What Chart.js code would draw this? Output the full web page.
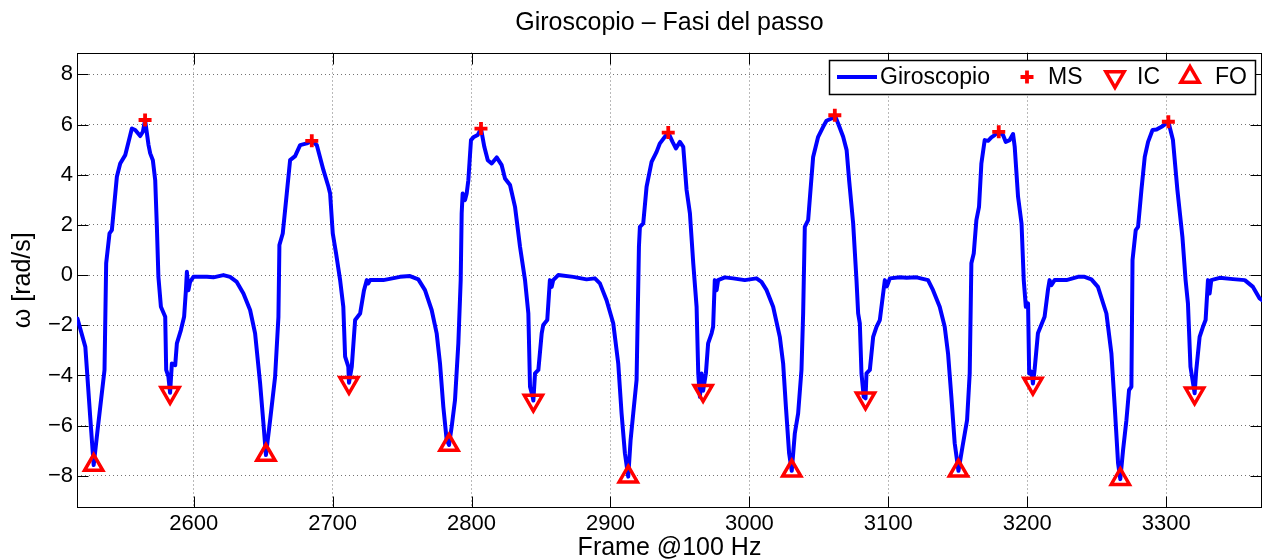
<!DOCTYPE html>
<html>
<head>
<meta charset="utf-8">
<title>Giroscopio – Fasi del passo</title>
<script src="https://cdn.jsdelivr.net/npm/chart.js@4.4.1/dist/chart.umd.min.js"></script>
<style>
  html, body { margin: 0; padding: 0; background: #fff; }
</style>
</head>
<body>
<canvas id="gyro" width="1262" height="560"></canvas>
<script>
// ---- Gyroscope trace (frame @100 Hz, rad/s), one row per step ----
const frames = [
  2516.3, 2522, 2525.5, 2528, 2530.8, 2535.8, 2537, 2539.4, 2541.1, 2544.7, 2547.1, 2550.7, 2555.5, 2557.9, 2561.5, 2563.4, 2565,
  2567.5, 2568.7, 2570.6, 2572.3, 2573.5, 2574.6, 2576.4, 2579.5, 2580.2, 2581.8, 2583, 2584.3, 2586.7, 2587.9, 2590.8, 2593.1,
  2594.4, 2595.1, 2596.2, 2597.4, 2599.8, 2609.5, 2614.2, 2621.4, 2626.2, 2631, 2635.8, 2640.6, 2644.2, 2647.8, 2650.2, 2652,
  2655, 2658.6, 2661, 2661.7, 2664.1, 2667, 2669.4, 2673, 2676.6, 2681.4, 2685, 2688.6, 2693.4, 2697, 2698.2, 2700.1, 2702.5,
  2705.4, 2707.7, 2709, 2711.3, 2711.8, 2713.8, 2716.2, 2719.8, 2722.6, 2724.6, 2725.7, 2727, 2736.5, 2748.5, 2755.7, 2761.7,
  2766.5, 2771.3, 2774.9, 2777.3, 2779.7, 2782.1, 2783.8,
  2785.7, 2788.1, 2790.5, 2792.2, 2792.9, 2793.6, 2795.3, 2796.5, 2797.7, 2799.6, 2801.3, 2804.4, 2806.8, 2809.2, 2811.7,
  2814.5, 2818.1, 2821.7, 2824.1, 2827.7, 2831.3, 2834.9, 2838.5, 2840.9, 2842.1, 2844, 2844.5, 2845.7, 2848.1, 2850.5, 2851.6,
  2854.5, 2856.4, 2857.7, 2858.8, 2862.4, 2873.2, 2882.8, 2888.8, 2892.4, 2897.2, 2902, 2905.6, 2908, 2910.4, 2912.8,
  2914.5, 2916.4, 2918.8, 2920.5, 2921.2, 2923.6, 2926, 2929.6, 2933.2, 2935.6, 2939.2, 2941.6, 2944.7, 2947.1, 2950, 2952.4,
  2954.8, 2957.2, 2959.6, 2962, 2963.2, 2964.4, 2965.6, 2966.7, 2968.7, 2970.3, 2972.8, 2973.9, 2975.1, 2976.4, 2977.5, 2982.3,
  2988.3, 2996.7, 3005.1, 3008.7, 3012.4, 3017.1, 3021.9, 3024.3, 3026.3, 3028.6, 3030.5,
  3032.7, 3035.1, 3037.5, 3038.7, 3039.9, 3042.3, 3044, 3045.9, 3049.5, 3053.1, 3055.5, 3059.1, 3061.5, 3063.9, 3067.5, 3070,
  3071.8, 3074.7, 3077.1, 3078.3, 3079.5, 3080.7, 3082.3, 3083.6, 3084.3, 3086.7, 3089.1, 3091.5, 3093.9, 3097.5, 3099, 3101.1,
  3108.3, 3113.1, 3120.3, 3128.6, 3132.2, 3137, 3140.6, 3143, 3145.4, 3147.8, 3150.5,
  3153.4, 3156.7, 3158.6, 3159.8, 3161.5, 3163.4, 3165.3, 3167, 3169.4, 3171.8, 3174.2, 3176.6, 3179.5, 3182.6, 3184.5, 3187.4,
  3189.8, 3191, 3193.4, 3195.9, 3197.5, 3199, 3200.6, 3201.4, 3203.1, 3204.1, 3205.3, 3207.7, 3210.1, 3212.5, 3214.9, 3216.1,
  3217.4, 3219.7, 3228.2, 3236.5, 3241.3, 3246.2, 3250.9, 3257, 3260.6, 3263, 3265.4, 3267,
  3269, 3271.4, 3273.3, 3275, 3275.8, 3278.1, 3279.8, 3282.2, 3284.6, 3287, 3290.2, 3293.1, 3296.7, 3301.6, 3304.9, 3308.1,
  3311.7, 3314, 3315.7, 3317.5, 3320.5, 3321.7, 3324.1, 3326.5, 3328.4, 3330.1, 3331.3, 3332.5, 3338.5, 3348.1, 3356.6, 3362.5,
  3367.3, 3369
];
const omega = [
  -1.73, -2.86, -5.65, -7.57, -6.18, -3.78, 0.47, 1.66, 1.79, 3.92, 4.45, 4.78, 5.84, 5.78, 5.54, 5.71, 6.18,
  5.18, 4.85, 4.58, 3.78, 1.92, -0.07, -1.26, -1.66, -3.78, -4.05, -4.69, -3.52, -3.59, -2.72, -2.19, -1.66,
  -0.6, 0.13, -0.6, -0.27, -0.07, -0.07, -0.09, 0.0, -0.07, -0.27, -0.73, -1.39, -2.32, -4.31, -5.91, -7.17,
  -5.78, -4.05, -1.66, 1.2, 1.66, 3.25, 4.58, 4.74, 5.18, 5.25, 5.35, 5.18, 4.18, 3.52, 3.25, 1.66, 0.86,
  -0.2, -1.26, -3.25, -3.65, -4.29, -3.65, -1.79, -1.53, -0.6, -0.2, -0.33, -0.2, -0.2, -0.07, -0.04, -0.17,
  -0.6, -1.39, -2.32, -3.52, -5.25, -6.57, -6.77,
  -6.04, -4.98, -2.72, -0.2, 2.46, 3.25, 2.99, 3.25, 3.78, 5.38, 5.49, 5.58, 5.84, 5.11, 4.58,
  4.45, 4.69, 4.38, 3.85, 3.59, 2.72, 1.13, -0.2, -1.53, -4.45, -4.85, -5.0, -3.92, -3.78, -2.32, -1.99,
  -1.79, -0.2, -0.47, -0.2, 0.0, -0.07, -0.17, -0.13, -0.33, -1.0, -1.92, -3.52, -5.51, -7.1, -8.03,
  -6.57, -5.51, -4.18, 1.13, 1.92, 2.06, 3.52, 4.51, 4.91, 5.25, 5.51, 5.68, 5.31, 5.05, 5.31, 5.11,
  3.39, 2.46, 0.47, -1.26, -3.92, -4.85, -3.92, -4.61, -3.92, -2.72, -2.32, -2.06, -0.2, -0.6, -0.2, -0.09,
  -0.13, -0.2, -0.13, -0.27, -0.6, -1.26, -2.46, -3.52, -5.25, -7.1, -7.8,
  -6.31, -5.51, -3.78, -1.53, 1.92, 2.19, 3.39, 4.71, 5.51, 5.91, 6.15, 6.24, 6.37, 6.04, 5.51, 4.98,
  3.78, 2.06, -0.2, -1.53, -1.92, -3.92, -4.85, -4.91, -3.92, -3.78, -2.46, -2.06, -1.79, -0.2, -0.45, -0.13,
  -0.09, -0.11, -0.09, -0.2, -0.6, -1.26, -2.06, -3.12, -4.85, -6.7, -7.8,
  -6.84, -5.78, -3.92, 0.47, 0.86, 2.19, 2.72, 4.45, 5.38, 5.35, 5.49, 5.58, 5.71, 5.58, 5.31, 5.38,
  5.62, 5.11, 3.12, 2.06, -0.2, -1.26, -1.13, -3.92, -3.85, -4.32, -3.78, -2.32, -1.99, -1.66, -0.6, -0.2,
  -0.4, -0.2, -0.2, -0.07, -0.07, -0.17, -0.47, -1.53, -3.12, -5.25, -7.5, -8.13,
  -6.97, -5.78, -4.58, -4.45, 0.6, 1.79, 1.92, 3.39, 4.71, 5.31, 5.78, 5.8, 5.91, 6.11, 5.38, 3.39,
  1.53, -0.2, -1.13, -3.65, -4.71, -3.78, -2.46, -2.06, -1.79, -0.2, -0.73, -0.2, -0.11, -0.16, -0.2, -0.47,
  -0.93, -1.0
];

// ---- Gait events: MS = mid swing, IC = initial contact, FO = foot off ----
const msFrames = [2565, 2685, 2806.8, 2941.6, 3061.5, 3179.5, 3301.6];
const msValues = [6.18, 5.35, 5.84, 5.68, 6.37, 5.71, 6.11];
const icFrames = [2583, 2711.8, 2844.5, 2966.7, 3083.6, 3204.1, 3320.5];
const icValues = [-4.69, -4.29, -5.0, -4.61, -4.91, -4.32, -4.71];
const foFrames = [2528, 2652, 2783.8, 2912.8, 3030.5, 3150.5, 3267];
const foValues = [-7.57, -7.17, -6.77, -8.03, -7.8, -7.8, -8.13];

// ---- Axes ----
const xTicks = [2600, 2700, 2800, 2900, 3000, 3100, 3200, 3300];
const yTicks = [-8, -6, -4, -2, 0, 2, 4, 6, 8];
const xRange = [2516, 3369];
const yRange = [-9.28, 8.87];

const FONT = '"Liberation Sans", Arial, Helvetica, sans-serif';
const BLUE = '#0000ff';
const RED = '#ff0000';

const toPoints = (xs, ys) => xs.map((x, i) => ({ x, y: ys[i] }));
const fmtTick = v => (v < 0 ? '\u2212' + Math.abs(v) : String(v));

// ---- Box around the plot + inward tick marks on all four sides ----
const axesBox = {
  id: 'axesBox',
  beforeDatasetsDraw(chart) {
    const { ctx, chartArea: a, scales: { x, y } } = chart;
    const L = Math.round(a.left) + 0.5, R = Math.round(a.right) - 0.5;
    const T = Math.round(a.top) + 0.5, B = Math.round(a.bottom) - 0.5;
    const len = 11;
    ctx.save();
    ctx.strokeStyle = '#000';
    ctx.lineWidth = 1;
    ctx.beginPath();
    xTicks.forEach(v => {
      const px = Math.round(x.getPixelForValue(v)) + 0.5;
      ctx.moveTo(px, B); ctx.lineTo(px, B - len);
      ctx.moveTo(px, T); ctx.lineTo(px, T + len);
    });
    yTicks.forEach(v => {
      const py = Math.round(y.getPixelForValue(v)) + 0.5;
      ctx.moveTo(L, py); ctx.lineTo(L + len, py);
      ctx.moveTo(R, py); ctx.lineTo(R - len, py);
    });
    ctx.stroke();
    ctx.strokeRect(L, T, R - L, B - T);
    ctx.restore();
  }
};

// ---- Marker drawing, same geometry as Chart.js point styles ----
function drawMarker(ctx, style, rotation, r, x, y) {
  ctx.beginPath();
  if (style === 'cross') {
    ctx.moveTo(x - r, y); ctx.lineTo(x + r, y);
    ctx.moveTo(x, y - r); ctx.lineTo(x, y + r);
  } else {
    let rad = rotation * Math.PI / 180;
    for (let k = 0; k < 3; k++) {
      const px = x + Math.sin(rad) * r, py = y - Math.cos(rad) * r;
      k ? ctx.lineTo(px, py) : ctx.moveTo(px, py);
      rad += 2 * Math.PI / 3;
    }
    ctx.closePath();
  }
  ctx.stroke();
}

// ---- Boxed legend in the upper right corner ----
const boxLegend = {
  id: 'boxLegend',
  afterDraw(chart) {
    const { ctx } = chart;
    const ds = chart.data.datasets;
    const top = 60, h = 34, left = 829, w = 426, cy = top + h / 2;
    ctx.save();
    ctx.fillStyle = '#fff';
    ctx.fillRect(left, top, w, h);
    ctx.strokeStyle = '#000';
    ctx.lineWidth = 1.5;
    ctx.strokeRect(left + 0.5, top + 0.5, w, h);

    ctx.font = '23px ' + FONT;
    ctx.fillStyle = '#000';
    ctx.textBaseline = 'middle';
    ctx.textAlign = 'left';

    // line sample
    ctx.strokeStyle = ds[0].borderColor;
    ctx.lineWidth = ds[0].borderWidth;
    ctx.beginPath();
    ctx.moveTo(837, cy); ctx.lineTo(877, cy);
    ctx.stroke();
    ctx.fillText(ds[0].label, 880, cy + 1);

    const items = [
      { d: ds[1], mx: 1027, tx: 1048 },
      { d: ds[2], mx: 1115, tx: 1137 },
      { d: ds[3], mx: 1190, tx: 1215 }
    ];
    items.forEach(({ d, mx, tx }) => {
      ctx.strokeStyle = d.borderColor;
      ctx.lineWidth = d.borderWidth;
      ctx.lineJoin = 'miter';
      drawMarker(ctx, d.pointStyle, d.rotation || 0, d.pointRadius, mx, cy);
      ctx.fillText(d.label, tx, cy + 1);
    });
    ctx.restore();
  }
};

const markerSet = (label, xs, ys, style, rotation, radius, width) => ({
  label,
  data: toPoints(xs, ys),
  showLine: false,
  pointStyle: style,
  rotation,
  pointRadius: radius,
  pointHoverRadius: radius,
  borderColor: RED,
  backgroundColor: 'rgba(0,0,0,0)',
  borderWidth: width,
  order: 0
});

new Chart(document.getElementById('gyro'), {
  type: 'line',
  data: {
    datasets: [
      {
        label: 'Giroscopio',
        data: toPoints(frames, omega),
        borderColor: BLUE,
        backgroundColor: BLUE,
        borderWidth: 4,
        borderJoinStyle: 'round',
        borderCapStyle: 'round',
        pointRadius: 0,
        tension: 0,
        order: 1
      },
      markerSet('MS', msFrames, msValues, 'cross', 0, 6.5, 3.8),
      markerSet('IC', icFrames, icValues, 'triangle', 180, 10.5, 3.5),
      markerSet('FO', foFrames, foValues, 'triangle', 0, 10.5, 3.5)
    ]
  },
  options: {
    responsive: false,
    animation: false,
    events: [],
    layout: { padding: 0, autoPadding: false },
    plugins: {
      legend: { display: false },
      tooltip: { enabled: false },
      title: {
        display: true,
        text: 'Giroscopio – Fasi del passo',
        fullSize: false,
        color: '#000',
        font: { family: FONT, size: 25, weight: 'normal', lineHeight: 1.2 },
        padding: { top: 8.3, bottom: 14.2 }
      }
    },
    scales: {
      x: {
        type: 'linear',
        min: xRange[0],
        max: xRange[1],
        afterBuildTicks: s => { s.ticks = xTicks.map(v => ({ value: v })); },
        afterFit: s => { s.height = 52; s.paddingLeft = 0; s.paddingRight = 0; },
        grid: { color: 'rgba(0,0,0,0.55)', lineWidth: 1, drawTicks: false },
        border: { display: false, dash: [1, 3] },
        ticks: {
          color: '#000',
          font: { family: FONT, size: 22 },
          padding: 3,
          maxRotation: 0,
          autoSkip: false,
          callback: v => fmtTick(v)
        },
        title: {
          display: true,
          text: 'Frame @100 Hz',
          color: '#000',
          font: { family: FONT, size: 25, lineHeight: 1 },
          padding: { top: 0, bottom: -1 }
        }
      },
      y: {
        min: yRange[0],
        max: yRange[1],
        afterBuildTicks: s => { s.ticks = yTicks.map(v => ({ value: v })); },
        afterFit: s => { s.width = 77; s.paddingTop = 0; s.paddingBottom = 0; },
        grid: { color: 'rgba(0,0,0,0.55)', lineWidth: 1, drawTicks: false },
        border: { display: false, dash: [1, 3] },
        ticks: {
          color: '#000',
          font: { family: FONT, size: 22 },
          padding: 4,
          autoSkip: false,
          callback: v => fmtTick(v)
        },
        title: {
          display: true,
          text: 'ω [rad/s]',
          color: '#000',
          font: { family: FONT, size: 25, lineHeight: 1 },
          padding: { top: 11, bottom: 0 }
        }
      }
    }
  },
  plugins: [axesBox, boxLegend]
});
</script>
</body>
</html>
